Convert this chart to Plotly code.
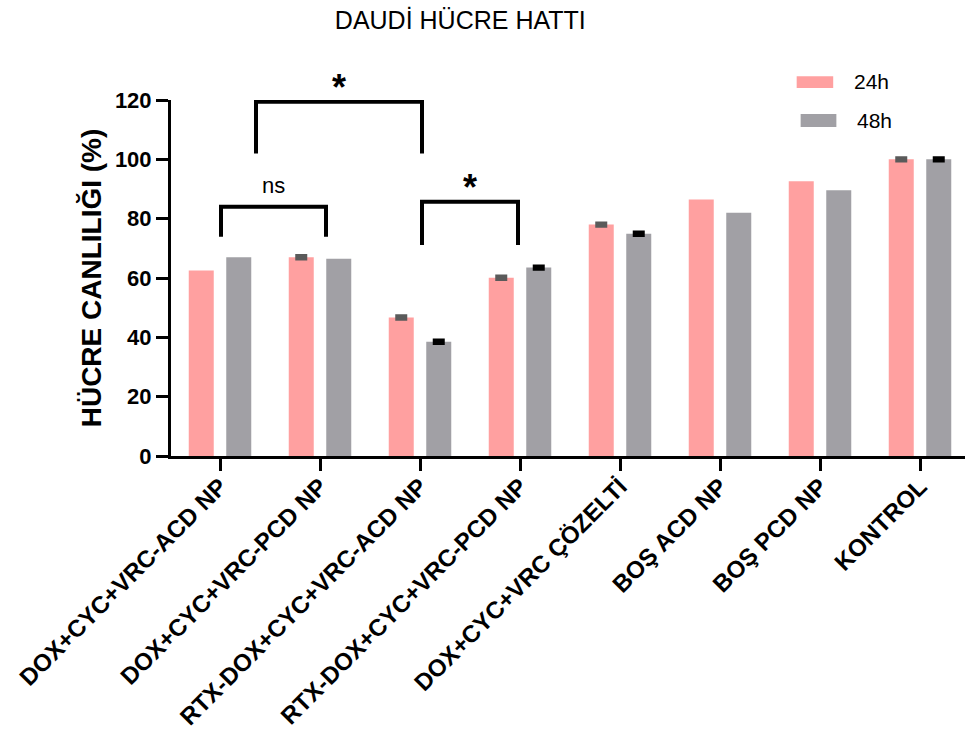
import numpy as np
import plotly.graph_objects as go

# Cell viability (%) of the Daudi cell line after 24 h and 48 h
categories = [
    "DOX+CYC+VRC-ACD NP",
    "DOX+CYC+VRC-PCD NP",
    "RTX-DOX+CYC+VRC-ACD NP",
    "RTX-DOX+CYC+VRC-PCD NP",
    "DOX+CYC+VRC ÇÖZELTİ",
    "BOŞ ACD NP",
    "BOŞ PCD NP",
    "KONTROL",
]
viability_24h = [62.5, 67.0, 46.7, 60.1, 78.0, 86.5, 92.6, 100.0]
viability_48h = [67.0, 66.5, 38.5, 63.5, 74.9, 82.0, 89.6, 100.0]
# NaN = no error bar drawn for that group
sd_24h = np.array([np.nan, 0.4, 0.4, 0.4, 0.4, np.nan, np.nan, 0.4])
sd_48h = np.array([np.nan, np.nan, 0.4, 0.4, 0.4, np.nan, np.nan, 0.4])

y_ticks = [0, 20, 40, 60, 80, 100, 120]

# Significance comparisons: (left x, right x, bracket height, left leg end, right leg end, label)
comparisons = [
    (0.01, 1.06, 84.0, 73.9, 73.9, "ns"),
    (0.36, 2.02, 119.4, 102.0, 102.0, "*"),
    (2.02, 2.98, 85.7, 71.1, 71.1, "*"),
]

PINK = "#FFA0A0"
GREY = "#A1A0A5"
FONT = "Liberation Sans, Arial, sans-serif"

x_pos = list(range(len(categories)))

fig = go.Figure()
fig.add_trace(go.Bar(
    x=x_pos, y=viability_24h, name="24h",
    marker=dict(color=PINK, line=dict(width=0)),
    offset=-0.3125, width=0.25,
    error_y=dict(type="data", array=sd_24h, visible=True,
                 color="#5A5A5A", thickness=4, width=6),
    showlegend=False,
))
fig.add_trace(go.Bar(
    x=x_pos, y=viability_48h, name="48h",
    marker=dict(color=GREY, line=dict(width=0)),
    offset=0.0625, width=0.25,
    error_y=dict(type="data", array=sd_48h, visible=True,
                 color="black", thickness=4, width=6),
    showlegend=False,
))

shapes = []
annotations = []
for x0, x1, ytop, yl, yr, label in comparisons:
    shapes.append(dict(
        type="path", xref="x", yref="y",
        path=f"M {x0},{yl} L {x0},{ytop} L {x1},{ytop} L {x1},{yr}",
        line=dict(color="black", width=4),
    ))
    if label == "ns":
        annotations.append(dict(
            x=(x0 + x1) / 2, y=ytop, xref="x", yref="y",
            text="ns", showarrow=False, yanchor="bottom", yshift=7,
            font=dict(family=FONT, size=22, color="black"),
        ))
    else:
        annotations.append(dict(
            x=(x0 + x1) / 2, y=ytop, xref="x", yref="y",
            text="<b>*</b>", showarrow=False, yanchor="bottom", yshift=-8,
            font=dict(family=FONT, size=36, color="black"),
        ))

# Legend drawn as wide swatches with labels
legend_items = [("24h", PINK, 0.788, 0.834, 1.034, 1.067, 0.858, 1.051),
                ("48h", GREY, 0.793, 0.838, 0.924, 0.961, 0.862, 0.942)]
for name, col, sx0, sx1, sy0, sy1, tx, ty in legend_items:
    shapes.append(dict(type="rect", xref="paper", yref="paper",
                       x0=sx0, x1=sx1, y0=sy0, y1=sy1,
                       fillcolor=col, line=dict(width=0)))
    annotations.append(dict(x=tx, y=ty, xref="paper", yref="paper",
                            text=name, showarrow=False, xanchor="left",
                            yanchor="middle",
                            font=dict(family=FONT, size=21, color="black")))

fig.update_layout(
    width=965, height=740, autosize=False,
    margin=dict(l=171, r=0, t=100, b=284),
    plot_bgcolor="white", paper_bgcolor="white",
    barmode="group",
    title=dict(text="DAUDİ HÜCRE HATTI", x=0.477, xanchor="center",
               y=0.973, yanchor="middle",
               font=dict(family=FONT, size=25, color="black")),
    shapes=shapes, annotations=annotations,
    showlegend=False,
)
fig.update_xaxes(
    range=[-0.49, 7.45], tickmode="array", tickvals=x_pos, ticktext=categories,
    tickangle=-45, showline=True, linecolor="black", linewidth=3,
    ticks="outside", ticklen=12, tickwidth=3, tickcolor="black",
    showgrid=False, zeroline=False, automargin=False,
    ticklabelstandoff=-8,
    tickfont=dict(family=FONT, size=24, color="black", weight="bold"),
)
fig.update_yaxes(
    range=[0, 120], tickmode="array", tickvals=y_ticks,
    showline=True, linecolor="black", linewidth=3,
    ticks="outside", ticklen=12, tickwidth=3, tickcolor="black",
    showgrid=False, zeroline=False, automargin=False,
    tickfont=dict(family=FONT, size=22, color="black", weight="bold"),
    title=dict(text="HÜCRE CANLILIĞI (%)", standoff=6,
               font=dict(family=FONT, size=28, color="black", weight="bold")),
)

fig.write_html("out.html")
